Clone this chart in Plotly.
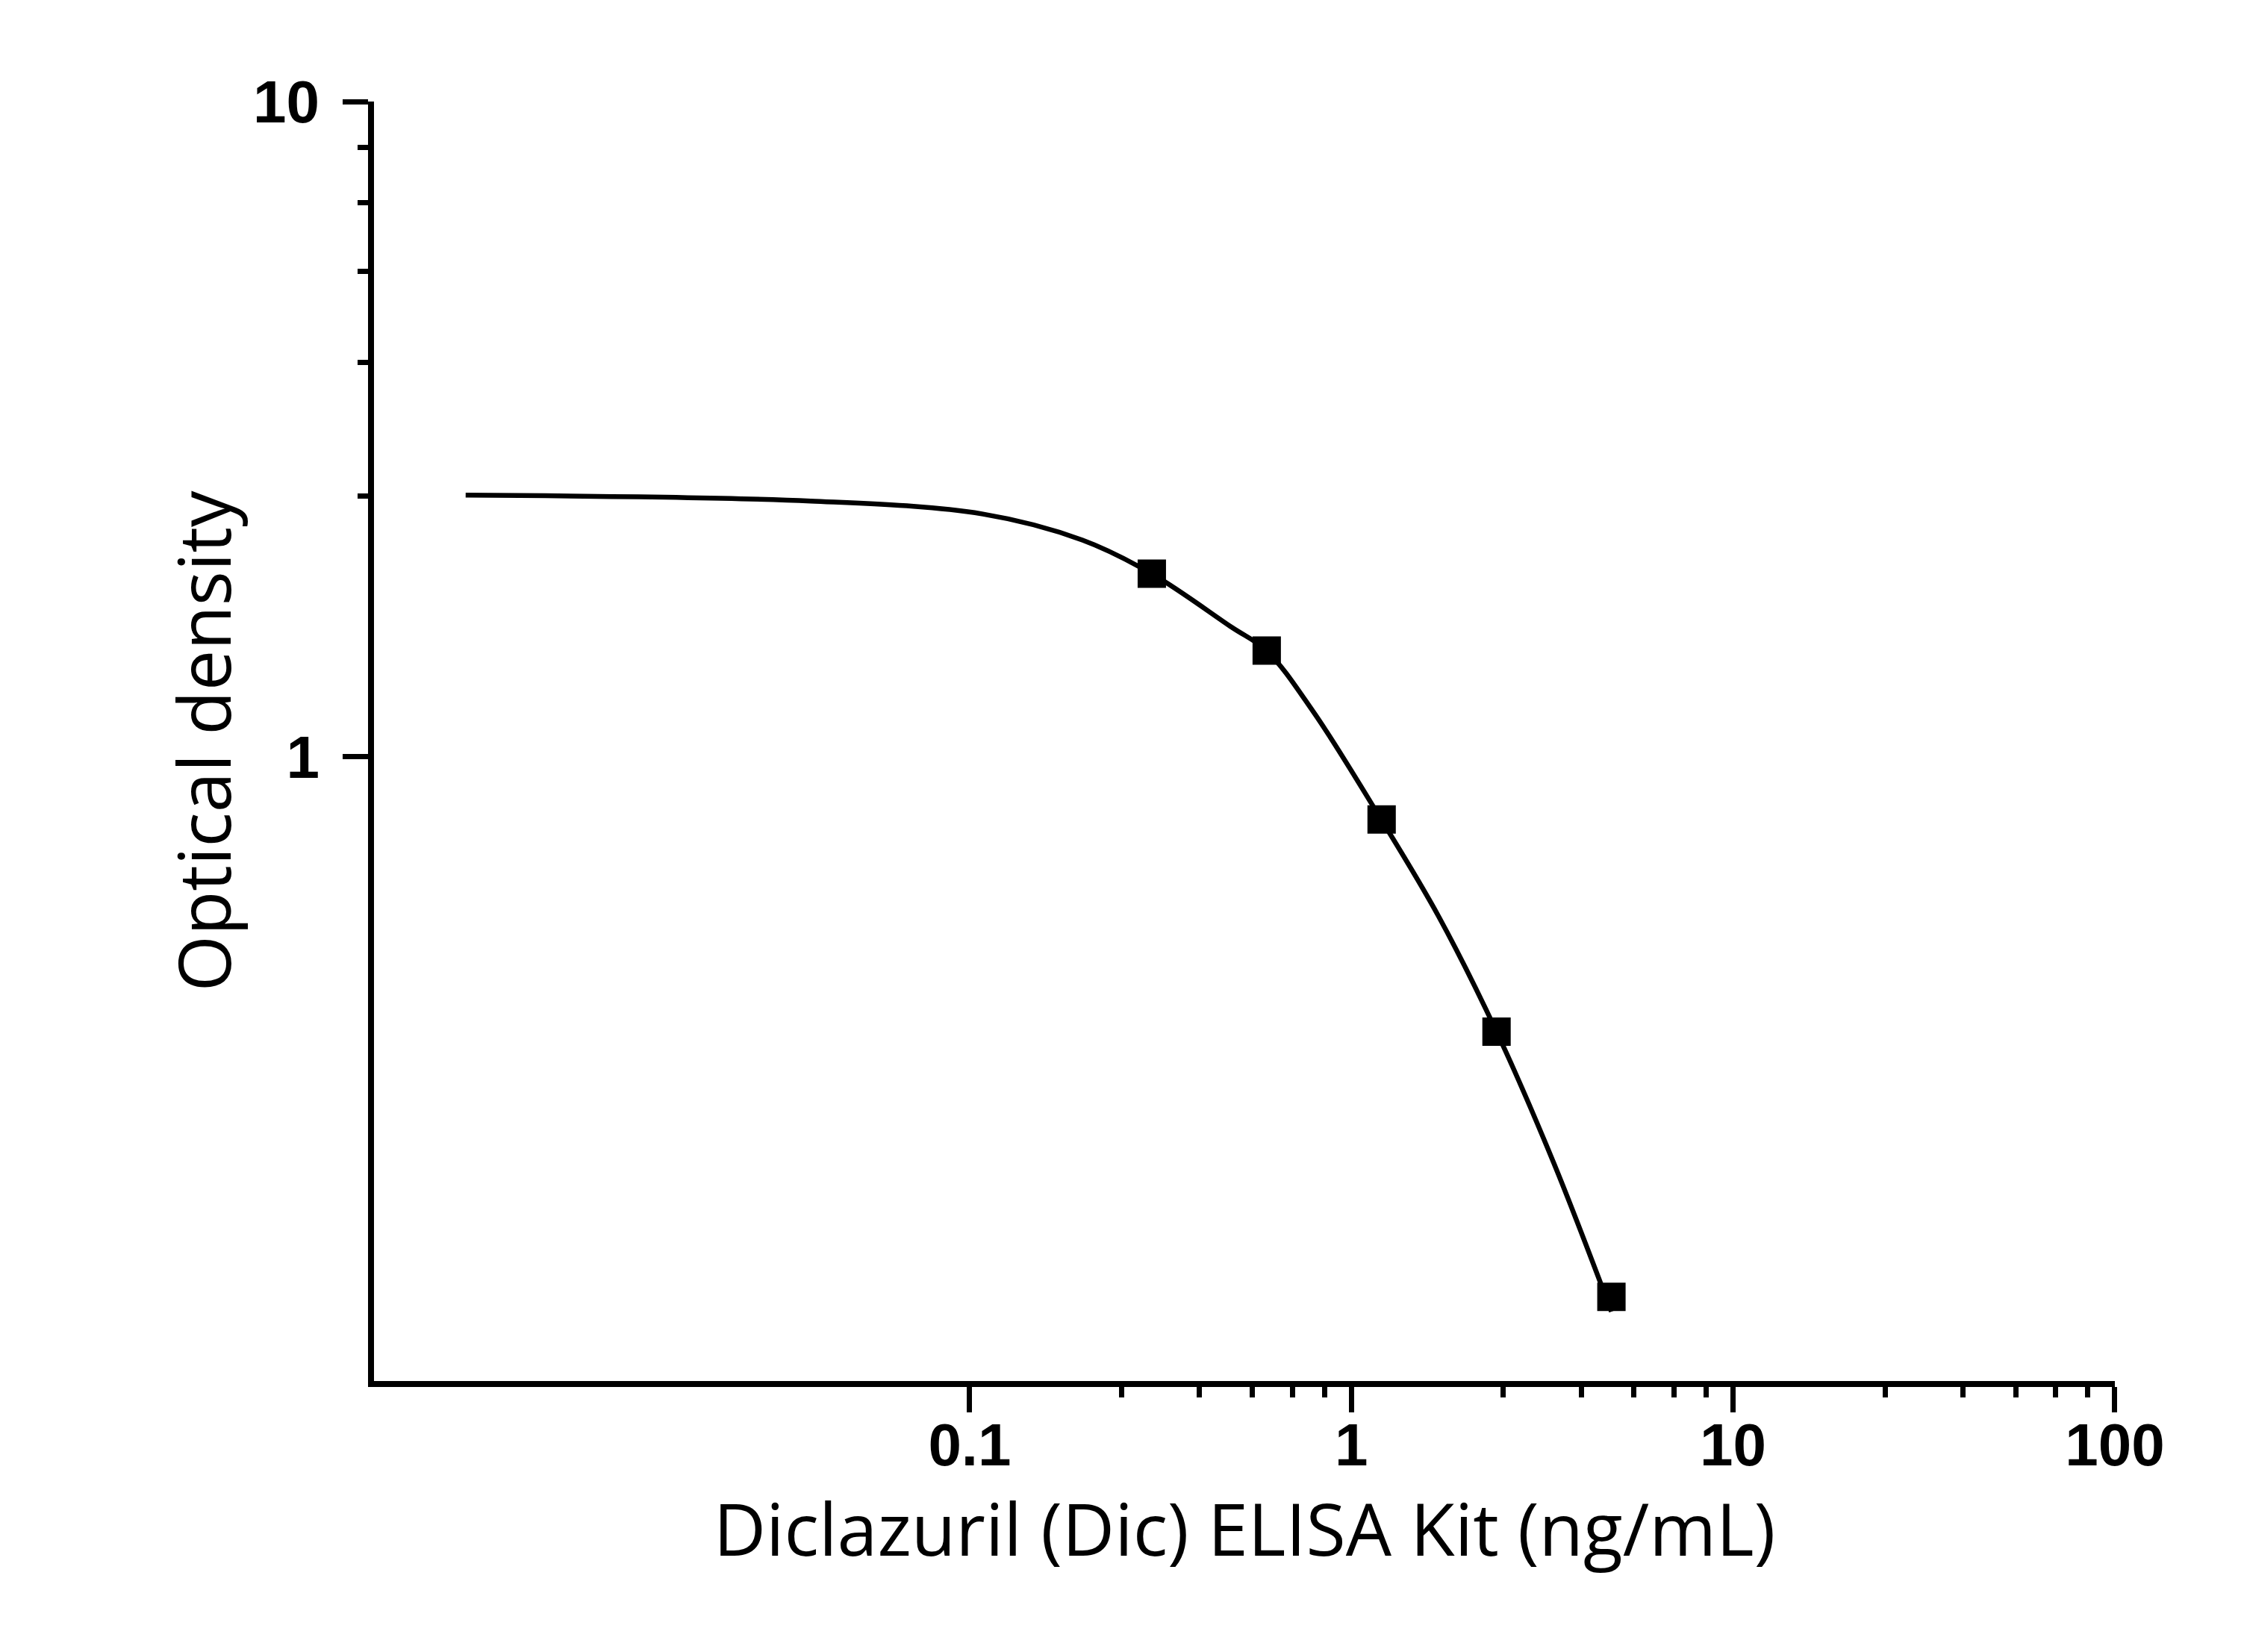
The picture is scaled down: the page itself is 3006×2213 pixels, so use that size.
import plotly.graph_objects as go

# Measured standards (concentration ng/mL, optical density)
conc = [0.3, 0.6, 1.2, 2.4, 4.8]
od = [1.902, 1.452, 0.802, 0.3805, 0.1498]

# Fitted curve
curve_x = [0.00478, 0.0383, 0.1083, 0.1974, 0.300, 0.4858, 0.599, 0.794,
           1.197, 1.691, 2.40, 3.384, 4.80]
curve_y = [2.507, 2.456, 2.346, 2.141, 1.902, 1.576, 1.452, 1.172,
           0.802, 0.571, 0.3805, 0.2404, 0.1422]

x_tickvals = [0.1, 1, 10, 100]
x_ticktext = ["0.1", "1", "10", "100"]
x_minor = [0.25, 0.4, 0.55, 0.7, 0.85, 2.5, 4, 5.5, 7, 8.5, 25, 40, 55, 70, 85]
y_tickvals = [1, 10]
y_ticktext = ["1", "10"]
y_minor = [2.5, 4, 5.5, 7, 8.5]

x_title = "Diclazuril (Dic) ELISA Kit (ng/mL)"
y_title = "Optical density"

fig = go.Figure()
fig.add_trace(go.Scatter(x=curve_x, y=curve_y, mode="lines",
                         line=dict(color="black", width=6.5, shape="spline"),
                         showlegend=False, hoverinfo="skip"))
fig.add_trace(go.Scatter(x=conc, y=od, mode="markers",
                         marker=dict(symbol="square", size=38, color="black",
                                     line=dict(width=0)),
                         showlegend=False))

tickfont = dict(family="Liberation Sans, Arial, sans-serif", size=80,
                color="black", weight="bold")
titlefont = dict(family="Open Sans, Noto Sans, sans-serif", size=97, color="black")

common = dict(showline=True, linewidth=8, linecolor="black", showgrid=False,
              zeroline=False, ticks="outside", ticklen=34, tickwidth=7,
              tickcolor="black", tickfont=tickfont, mirror=False)

fig.update_xaxes(type="log", range=[-2.5607, 2.0002],
                 tickmode="array", tickvals=x_tickvals, ticktext=x_ticktext,
                 ticklabelstandoff=-25,
                 minor=dict(tickmode="array", tickvals=x_minor, ticks="outside",
                            ticklen=14, tickwidth=7, tickcolor="black", showgrid=False),
                 title=dict(text=x_title, font=titlefont, standoff=17),
                 **common)
fig.update_yaxes(type="log", range=[-0.9529, 1.0],
                 tickmode="array", tickvals=y_tickvals, ticktext=y_ticktext,
                 ticklabelstandoff=15,
                 minor=dict(tickmode="array", tickvals=y_minor, ticks="outside",
                            ticklen=14, tickwidth=7, tickcolor="black", showgrid=False),
                 title=dict(text=y_title, font=titlefont, standoff=0),
                 **common)

fig.update_layout(width=2990, height=2197,
                  margin=dict(l=493, r=165, t=127.6, b=355, pad=0),
                  plot_bgcolor="white", paper_bgcolor="white",
                  showlegend=False)

fig.write_html("out.html")
